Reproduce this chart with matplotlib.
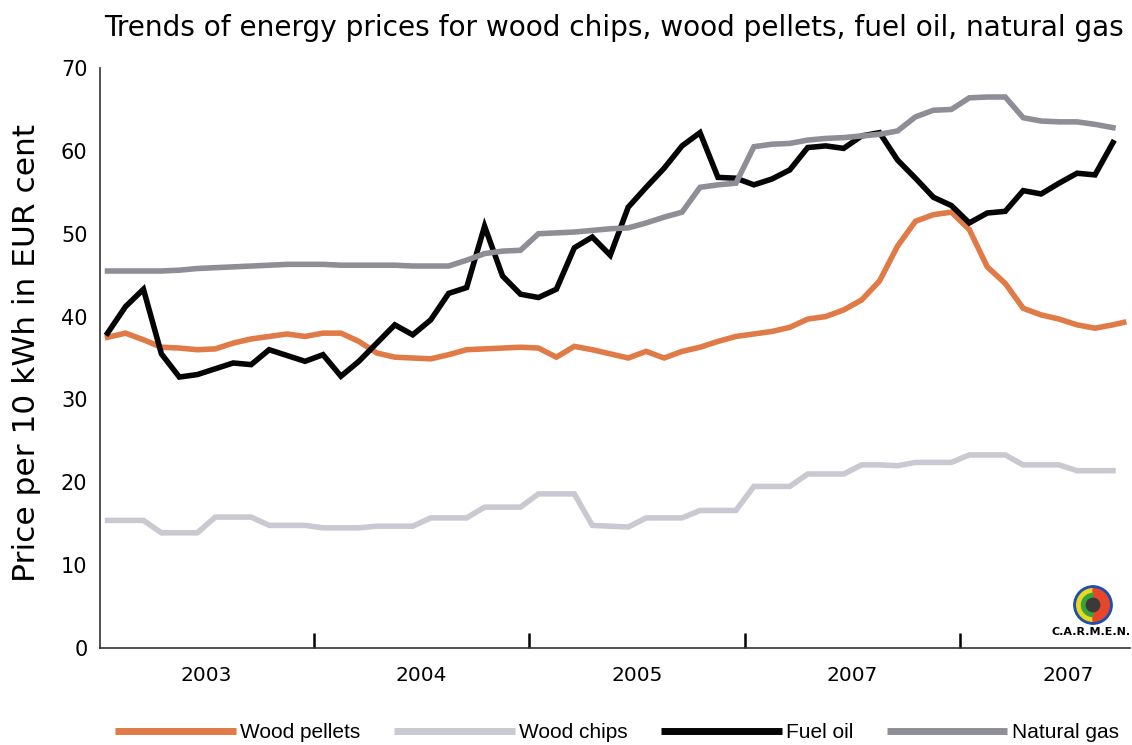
import numpy as np
import matplotlib
matplotlib.use("Agg")
import matplotlib.pyplot as plt
from matplotlib.patches import Circle, Wedge

# ---------------- data (monthly, Jan 2003 = 0) ----------------
months = list(range(57))
pellets_months = list(range(57)) + [56.6]

wood_pellets = [37.5, 38.0, 37.2, 36.3, 36.2, 36.0, 36.1, 36.8, 37.3, 37.6, 37.9, 37.6,
                38.0, 38.0, 37.0, 35.6, 35.1, 35.0, 34.9, 35.4, 36.0, 36.1, 36.2, 36.3,
                36.2, 35.1, 36.4, 36.0, 35.5, 35.0, 35.8, 35.0, 35.8, 36.3, 37.0, 37.6,
                37.9, 38.2, 38.7, 39.7, 40.0, 40.8, 42.0, 44.3, 48.5, 51.5, 52.3, 52.6,
                50.5, 46.0, 44.0, 41.0, 40.2, 39.7, 39.0, 38.6, 39.0, 39.3]

wood_chips = [15.4, 15.4, 15.4, 13.9, 13.9, 13.9, 15.8, 15.8, 15.8, 14.8, 14.8, 14.8,
              14.5, 14.5, 14.5, 14.7, 14.7, 14.7, 15.7, 15.7, 15.7, 17.0, 17.0, 17.0,
              18.6, 18.6, 18.6, 14.8, 14.7, 14.6, 15.7, 15.7, 15.7, 16.6, 16.6, 16.6,
              19.5, 19.5, 19.5, 21.0, 21.0, 21.0, 22.1, 22.1, 22.0, 22.4, 22.4, 22.4,
              23.3, 23.3, 23.3, 22.1, 22.1, 22.1, 21.4, 21.4, 21.4]

fuel_oil = [38.0, 41.2, 43.3, 35.5, 32.7, 33.0, 33.7, 34.4, 34.2, 36.0, 35.3, 34.6,
            35.4, 32.8, 34.6, 36.8, 39.0, 37.8, 39.6, 42.8, 43.5, 50.9, 44.9, 42.7,
            42.3, 43.3, 48.3, 49.6, 47.4, 53.2, 55.6, 57.9, 60.6, 62.2, 56.8, 56.7,
            55.9, 56.6, 57.7, 60.4, 60.6, 60.3, 61.8, 62.2, 58.9, 56.7, 54.4, 53.4,
            51.3, 52.5, 52.7, 55.2, 54.8, 56.1, 57.3, 57.1, 61.0]

natural_gas = [45.5, 45.5, 45.5, 45.5, 45.6, 45.8, 45.9, 46.0, 46.1, 46.2, 46.3, 46.3,
               46.3, 46.2, 46.2, 46.2, 46.2, 46.1, 46.1, 46.1, 46.8, 47.6, 47.9, 48.0,
               50.0, 50.1, 50.2, 50.4, 50.6, 50.7, 51.3, 52.0, 52.6, 55.6, 55.9, 56.1,
               60.5, 60.8, 60.9, 61.3, 61.5, 61.6, 61.8, 62.0, 62.4, 64.1, 64.9, 65.0,
               66.4, 66.5, 66.5, 64.0, 63.6, 63.5, 63.5, 63.2, 62.8]

year_labels = ["2003", "2004", "2005", "2007", "2007"]
year_centers = [5.5, 17.5, 29.5, 41.5, 53.5]
year_bounds = [11.5, 23.5, 35.5, 47.5]
y_ticks = [0, 10, 20, 30, 40, 50, 60, 70]

series_names = ["Wood pellets", "Wood chips", "Fuel oil", "Natural gas"]
colors = ["#E07A47", "#C9C9D1", "#050505", "#8E8E96"]

# ---------------- figure ----------------
plt.rcParams['font.family'] = ['DejaVu Sans']
fig = plt.figure(figsize=(11.32, 7.45), dpi=100)
ax = fig.add_axes([100 / 1132, 97 / 745, 1030 / 1132, 580 / 745])

lw = 4.0
ax.plot(pellets_months, wood_pellets, color=colors[0], lw=lw, solid_joinstyle='miter', label=series_names[0])
ax.plot(months, wood_chips, color=colors[1], lw=lw, solid_joinstyle='miter', label=series_names[1])
ax.plot(months, fuel_oil, color=colors[2], lw=lw, solid_joinstyle='miter', label=series_names[2])
ax.plot(months, natural_gas, color=colors[3], lw=lw, solid_joinstyle='miter', label=series_names[3])

ax.set_xlim(-0.42, 56.95)
ax.set_ylim(0, 70)

for s in ["top", "right"]:
    ax.spines[s].set_visible(False)
for s in ["left", "bottom"]:
    ax.spines[s].set_color("#333333")
    ax.spines[s].set_linewidth(1.2)

ax.set_yticks(y_ticks)
ax.set_yticklabels([str(v) for v in y_ticks], fontsize=15)
ax.tick_params(axis='y', length=0, pad=9)

ax.set_xticks(year_bounds)
ax.set_xticklabels([])
ax.tick_params(axis='x', which='major', direction='in', length=11, width=1.8, color='black')
ax.set_xticks(year_centers, minor=True)
ax.set_xticklabels(year_labels, minor=True, fontsize=14.5)
ax.tick_params(axis='x', which='minor', length=0, pad=13)

fig.text(614 / 1132, 1 - 28 / 745, "Trends of energy prices for wood chips, wood pellets, fuel oil, natural gas",
         ha='center', va='center', fontsize=20.2)
fig.text(27 / 1132, 1 - 353 / 745, "Price per 10 kWh in EUR cent", rotation=90,
         ha='center', va='center', fontsize=22.5)

leg = fig.legend(loc='center', bbox_to_anchor=(617 / 1132, 1 - 733 / 745), ncol=4, frameon=False,
                 handlelength=5.8, handletextpad=0.2, columnspacing=1.6,
                 prop={'family': ['Liberation Sans Narrow', 'Liberation Sans'], 'size': 15})
for h in leg.get_lines():
    h.set_linewidth(5)
    h.set_solid_capstyle('butt')

# ---------------- C.A.R.M.E.N. logo ----------------
lax = fig.add_axes([1070 / 1132, 1 - 628 / 745, 46 / 1132, 46 / 745])
lax.set_xlim(-1.2, 1.2)
lax.set_ylim(-1.2, 1.2)
lax.set_aspect('equal')
lax.axis('off')
lax.add_patch(Circle((0, 0), 1.0, color='#1F4FA8'))
lax.add_patch(Wedge((0, 0), 0.85, 90, 270, color='#E8D820'))
lax.add_patch(Wedge((0, 0), 0.85, -90, 90, color='#E8462A'))
lax.add_patch(Wedge((0, 0), 0.6, 90, 270, color='#3AA23A'))
lax.add_patch(Circle((0, 0), 0.35, color='#3A3A3A'))
fig.text(1091 / 1132, 1 - 632 / 745, "C.A.R.M.E.N.", ha='center', va='center',
         fontsize=8, fontweight='bold')

fig.savefig("out.png", dpi=100)
